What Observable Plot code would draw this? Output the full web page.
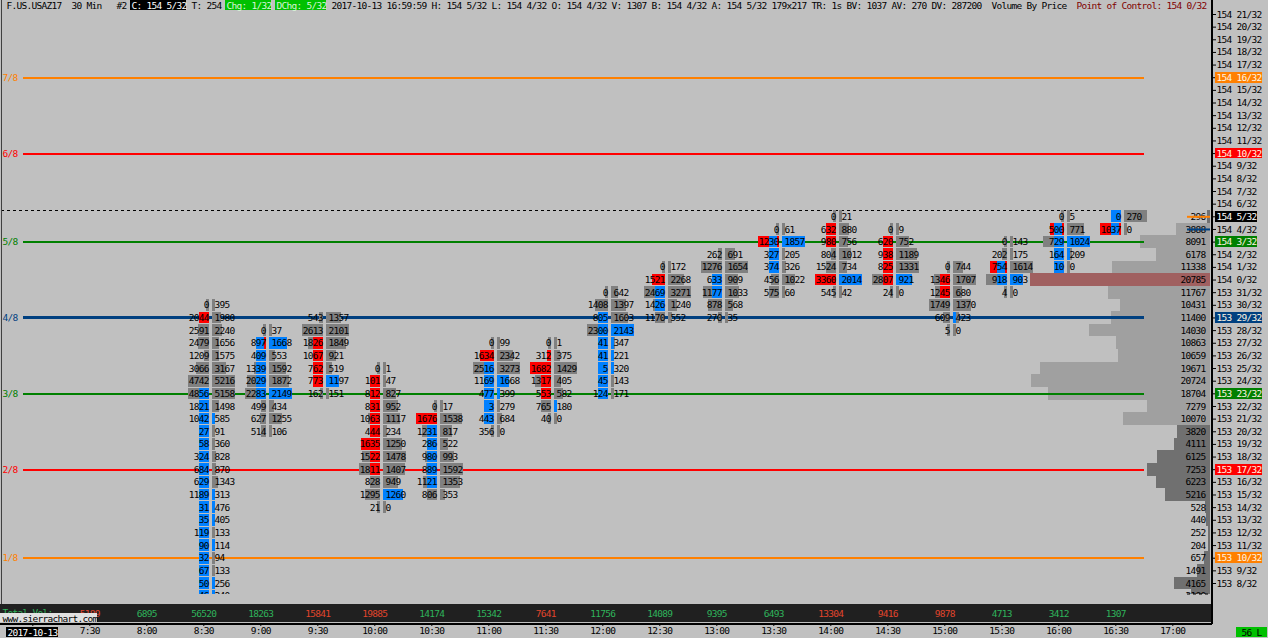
<!DOCTYPE html>
<html>
<head>
<meta charset="utf-8">
<style>
html,body{margin:0;padding:0;background:#c0c0c0;overflow:hidden}
svg{display:block}
svg text{letter-spacing:-0.72px}
</style>
<script src="https://cdn.jsdelivr.net/npm/d3@7"></script>
<script src="https://cdn.jsdelivr.net/npm/@observablehq/plot@0.6"></script>
</head>
<body>
<script>
// Prices are in 32nds of a point: 154 5/32 = 154*32+5 = 4933
const sessionTimes = [450,480,510,540,570,600,630,660,690,720,750,780,810,840,870,900,930,960,990];
const totalVolume  = [5189,6895,56520,18263,15841,19885,14174,15342,7641,11756,14089,9395,6493,13304,9416,9878,4713,3412,1307];
const volumeUp     = [0,1,1,1,0,0,1,1,0,1,1,1,1,0,0,0,1,1,1];

// Footprint columns: start minute, top price tick, bid volumes, ask volumes, left flag, right flag
const bid0830=[0,2044,2591,2479,1209,3066,4742,4856,1821,1042,27,58,324,684,629,1189,31,35,119,90,32,67,50,46];
const ask0830=[395,1980,2240,1656,1575,3167,5216,5158,1498,585,91,360,828,870,1343,313,476,405,133,114,94,133,256,240];
const bid0900=[0,897,409,1339,2029,2283,499,627,514];
const ask0900=[37,1668,553,1592,1872,2149,434,1255,106];
const bid0930=[543,2613,1826,1067,762,773,162];
const ask0930=[1357,2101,1849,921,519,1197,151];
const bid1000=[0,101,812,831,1063,444,1635,1522,1811,828,1295,21];
const ask1000=[1,47,827,952,1117,234,1250,1478,1407,949,1260,0];
const bid1030=[0,1676,1231,286,980,889,1121,806];
const ask1030=[17,1538,817,522,993,1592,1353,353];
const bid1100=[0,1634,2516,1169,477,3,443,356];
const ask1100=[99,2342,3273,1668,399,279,684,0];
const bid1130=[0,312,1682,1317,553,765,40];
const ask1130=[1,375,1429,405,582,180,0];
const bid1200=[0,1408,805,2300,41,41,5,45,124];
const ask1200=[642,1397,1603,2143,347,221,320,143,171];
const bid1230=[0,1521,2469,1426,1170];
const ask1230=[172,2268,3271,1240,552];
const bid1300=[262,1276,633,1177,878,270];
const ask1300=[691,1654,909,1033,568,35];
const bid1330=[0,1230,327,374,456,575];
const ask1330=[61,1857,205,326,1022,60];
const bid1400=[0,632,980,804,1524,3360,545];
const ask1400=[21,880,756,1012,734,2014,42];
const bid1430=[0,620,938,825,2807,24];
const ask1430=[9,752,1189,1331,921,0];
const bid1500=[0,1346,1245,1749,609,5];
const ask1500=[744,1707,680,1370,423,0];
const bid1530=[0,202,754,918,4];
const ask1530=[143,175,1614,903,0];
const bid1600=[0,500,729,164,10];
const ask1600=[5,771,1024,209,0];
const bid1630=[0,1037];
const ask1630=[270,0];

const columns = [
 [510,4926,bid0830,ask0830,".r.....bbbbbbbbbbbbbbbbb",".........b.....bbb.b..bb"],
 [540,4924,bid0900,ask0900,".mbbbb...",".B...B..."],
 [570,4925,bid0930,ask0930,"..rrrr.",".....B."],
 [600,4921,bid1000,ask1000,".rrrrrRrr...","..........B."],
 [630,4918,bid1030,ask1030,".Rbbbbb.","........"],
 [660,4923,bid1100,ask1100,".Rbbbbb.","...Bb..."],
 [690,4923,bid1130,ask1130,".RRrr..",".....b."],
 [720,4927,bid1200,ask1200,"..bbbbbbb","...Bbbb.."],
 [750,4929,bid1230,ask1230,".Rbb.","....."],
 [780,4930,bid1300,ask1300,"..bb..","......"],
 [810,4932,bid1330,ask1330,".mbb..",".B...."],
 [840,4933,bid1400,ask1400,".rr..R.",".....B."],
 [870,4932,bid1430,ask1430,".rrrr.","....B."],
 [900,4929,bid1500,ask1500,".rr...","....b."],
 [930,4931,bid1530,ask1530,"..mb.","...B."],
 [960,4933,bid1600,ask1600,".mbbb","..Bb."],
 [990,4933,bid1630,ask1630,"bm",".."]
];

// Volume by price, from 154 5/32 down to 153 7/32
const profileTop = 4933;
const profileVolume = [296,3888,8091,6178,11338,20785,11767,10431,11400,14030,10863,10659,19671,20724,18704,7279,10070,3820,4111,6125,7253,6223,5216,528,440,252,204,657,1491,4165,2190];
const valueAreaHigh = 4932, valueAreaLow = 4917, pointOfControl = 4928;

// Octave levels: price, label, colour
const levelPrices = [4944,4938,4931,4925,4919,4913,4906];
const levelLabels = ["7/8","6/8","5/8","4/8","3/8","2/8","1/8"];
const levelColors = ["#ff8000","#ff0000","#008000","#004080","#008000","#ff0000","#ff8000"];

const headerTexts = ["F.US.USAZ17","30 Min","#2","C: 154 5/32","T: 254","Chg: 1/32","DChg: 5/32","2017-10-13 16:59:59","H: 154 5/32","L: 154 4/32","O: 154 4/32","V: 1307","B: 154 4/32","A: 154 5/32","179x217","TR: 1s","BV: 1037","AV: 270","DV: 287200","Volume By Price","Point of Control: 154 0/32"];
const headerChars = [0,13,22,25,37,44,54,65,85,97,109,121,129,141,153,161,168,177,185,197,214];

// ---- scales and helpers ----
const pxPerMin = 1.9, pxPerTick = 12.644;
const xAt = px => 510 + (px - 203.3) / pxPerMin;
const yAt = px => 4949 - (px - 14) / pxPerTick;
const priceLabel = p => Math.floor(p / 32) + " " + (p % 32) + "/32";
const timeLabel = m => Math.floor(m / 60) + ":" + String(m % 60).padStart(2, "0");
const font = {fontFamily: "'DejaVu Sans Mono', monospace", fontSize: 9.5};
const RED = "#ff0000", BLUE = "#0080ff", GREY = "#808080";
const leftEdge = 5.7, rightEdge = 8.7, minW = 3, leftMax = 21, rightMax = 23;

const rows = [], shapes = [];
const add = (t, p, a, b, fill) => shapes.push({x1: t + a / pxPerMin, x2: t + b / pxPerMin, p, fill});
for (const [t, top, bid, ask, lf, rf] of columns) {
  const bm = d3.max(bid), am = d3.max(ask);
  bid.forEach((v, i) => {
    const p = top - i;
    const lw = Math.max(minW, v / bm * leftMax), rw = Math.max(minW, ask[i] / am * rightMax);
    rows.push({t, p, bid: v, ask: ask[i]});
    add(t, p, leftEdge - lw, leftEdge, GREY);
    add(t, p, rightEdge, rightEdge + rw, GREY);
    const l = lf[i], r = rf[i];
    if (l === "r") add(t, p, leftEdge - 10, leftEdge, RED);
    if (l === "b") add(t, p, leftEdge - 10, leftEdge, BLUE);
    if (l === "R") add(t, p, leftEdge - lw, leftEdge, RED);
    if (l === "m") { add(t, p, leftEdge - Math.max(lw, 10), leftEdge, RED); add(t, p, leftEdge - 10, leftEdge - 2, BLUE); }
    if (r === "B") add(t, p, rightEdge, rightEdge + rw, BLUE);
    if (r === "b") add(t, p, rightEdge, rightEdge + minW, BLUE);
  });
}
const profile = profileVolume.map((v, i) => {
  const p = profileTop - i;
  return {p, v, fill: p === pointOfControl ? "#a06060" : (p <= valueAreaHigh && p >= valueAreaLow ? "#a0a0a0" : "#707070")};
});
const levels = levelPrices.map((p, i) => ({p, label: levelLabels[i], c: levelColors[i]}));
const axisHighlights = [
  ...levels.map(d => ({p: d.p, c: d.c, fg: "#fff4e0"})),
  {p: 4933, c: "#000000", fg: "#ffffff"}
];
const header = headerTexts.map((s, i) => ({s, x: xAt(6 + 5 * headerChars[i]),
  c: i === 3 ? "#ffffff" : (i === 5 || i === 6) ? "#d8f5d8" : i === 20 ? "#800000" : "#000000"}));
const headerBoxes = [[3, "#000000"], [5, "#00c000"], [6, "#00c000"]].map(([i, c]) => ({
  x1: xAt(6 + 5 * headerChars[i] - 1.5), x2: xAt(6 + 5 * (headerChars[i] + headerTexts[i].length) - 0.5), c}));
const footer = sessionTimes.map((t, i) => ({t, v: totalVolume[i], c: volumeUp[i] ? "#2fb35b" : "#e0452c"}));
const band = (x1, x2, y1, y2, fill) => Plot.rect([0], {x1: xAt(x1), x2: xAt(x2), y1: yAt(y1), y2: yAt(y2), fill, shapeRendering: "crispEdges"});

const chart = Plot.plot({
  width: 1268, height: 638,
  marginLeft: 0, marginRight: 57, marginTop: 0, marginBottom: 44,
  style: {background: "#c0c0c0", color: "#000"},
  color: {type: "identity"},
  x: {type: "linear", domain: [510, 1020], range: [203.3, 1172.3], axis: null, label: null},
  y: {type: "linear", domain: [4949, 4904], range: [14, 583], axis: null, label: null},
  marks: [
    // volume profile
    Plot.rect(profile, {x1: d => xAt(1210 - d.v * 0.00866), x2: xAt(1210), y1: d => d.p + 0.5, y2: d => d.p - 0.5, fill: "fill", shapeRendering: "crispEdges", clip: true}),
    Plot.text(profile, {x: xAt(1205), y: "p", text: d => String(d.v), textAnchor: "end", fill: "#000", clip: true, ...font}),
    // session high line
    Plot.ruleY([4933], {y: d => yAt(210), x1: xAt(1), x2: xAt(1113), stroke: "#000", strokeWidth: 1, strokeDasharray: "3,3"}),
    Plot.ruleY([4933], {y: d => yAt(593.5), x1: xAt(1187), x2: xAt(1210), stroke: "#000", strokeWidth: 1, strokeDasharray: "3,3"}),
    // octave levels
    Plot.ruleY(levels, {y: "p", x1: xAt(23), x2: xAt(1144), stroke: "c", strokeWidth: d => d.c === "#004080" ? 3 : 2, shapeRendering: "crispEdges"}),
    Plot.text(levels, {x: xAt(2), y: "p", text: "label", fill: "c", textAnchor: "start", ...font}),
    Plot.ruleY([4933], {x1: xAt(1187), x2: xAt(1210), stroke: "#ff8000", strokeWidth: 2}),
    Plot.ruleY([4932], {x1: xAt(1187), x2: xAt(1210), stroke: "#004080", strokeWidth: 2}),
    // footprint
    Plot.rect(shapes, {x1: "x1", x2: "x2", y1: d => d.p - 0.46, y2: d => d.p + 0.46, fill: "fill", shapeRendering: "crispEdges", clip: true}),
    Plot.text(rows, {x: "t", y: "p", text: d => String(d.bid), dx: 4.9, textAnchor: "end", fill: "#000", clip: true, ...font}),
    Plot.text(rows, {x: "t", y: "p", text: d => String(d.ask), dx: 10.7, textAnchor: "start", fill: "#000", clip: true, ...font}),
    // footer band
    band(0, 1211, 604, 622, "#202020"),
    Plot.text(footer, {x: "t", y: yAt(613), text: d => String(d.v), fill: "c", ...font}),
    Plot.text(["Total Vol:"], {x: xAt(2), y: yAt(612), textAnchor: "start", fill: "#2fb35b", ...font}),
    band(0, 97, 613, 622, "#e0e0e0"),
    Plot.text(["www.sierrachart.com"], {x: xAt(2), y: yAt(618), textAnchor: "start", fill: "#000", ...font}),
    // frame
    Plot.ruleY([0], {y: yAt(623), x1: xAt(0), x2: xAt(1212), stroke: "#000", strokeWidth: 2, shapeRendering: "crispEdges"}),
    Plot.ruleX([0], {x: xAt(1211.5), y1: yAt(0), y2: yAt(624), stroke: "#000", strokeWidth: 2, shapeRendering: "crispEdges"}),
    Plot.ruleX([0], {x: xAt(0.5), y1: yAt(0), y2: yAt(604), stroke: "#404040", strokeWidth: 1, shapeRendering: "crispEdges"}),
    // axes
    Plot.axisY(d3.range(4904, 4950), {anchor: "right", label: null, tickSize: 4, tickPadding: 1, tickFormat: priceLabel, fill: "#000", stroke: "#000", ...font}),
    Plot.axisX(d3.range(420, 1021, 30), {anchor: "bottom", label: null, dy: 29, tickSize: 3, tickPadding: 1, tickFormat: m => m === 420 ? "" : timeLabel(m), fill: "#000", stroke: "#000", ...font}),
    // axis highlights
    Plot.rect(axisHighlights, {x1: xAt(1215), x2: d => xAt(1217 + 5 * priceLabel(d.p).length), y1: d => d.p + 0.42, y2: d => d.p - 0.42, fill: "c", shapeRendering: "crispEdges"}),
    Plot.text(axisHighlights, {x: xAt(1216), y: "p", text: d => priceLabel(d.p), fill: "fg", textAnchor: "start", ...font}),
    // date and status boxes
    band(6, 58, 627, 637, "#000000"),
    Plot.text(["2017-10-13"], {x: xAt(32), y: yAt(632), fill: "#fff", ...font}),
    band(1236, 1267, 627, 637, "#00c000"),
    Plot.text(["56 L"], {x: xAt(1251), y: yAt(632), fill: "#000", ...font}),
    // header
    Plot.rect(headerBoxes, {x1: "x1", x2: "x2", y1: yAt(0), y2: yAt(10), fill: "c", shapeRendering: "crispEdges"}),
    Plot.text(header, {x: "x", y: yAt(5), text: "s", fill: "c", textAnchor: "start", ...font})
  ]
});
document.body.appendChild(chart);
</script>
</body>
</html>
